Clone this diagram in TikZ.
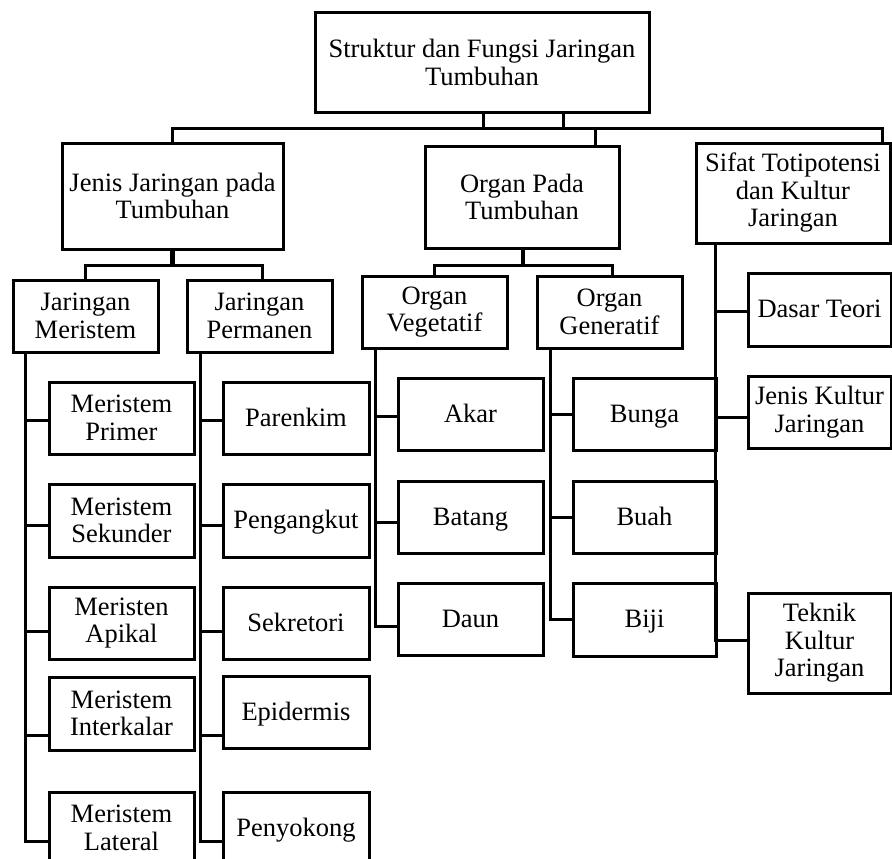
\documentclass[tikz,border=0pt]{standalone}
\usepackage{fontspec}
\setmainfont{Liberation Serif}
\begin{document}
\begin{tikzpicture}[x=1pt,y=-1pt,
  box/.style={draw,rectangle,line width=3pt,inner sep=0pt,align=center,
    font=\fontsize{26.5}{27.5}\selectfont},
  oneline/.style={box,text height=22pt,text depth=6pt},
  conn/.style={line width=3pt}]
\useasboundingbox (0,0) rectangle (892,859);
\clip (0,0) rectangle (892,859);
% level 0
\node[box,minimum width=334,minimum height=99] (root) at (482,62.5) {Struktur dan Fungsi Jaringan\\Tumbuhan};
% level 1
\node[box,minimum width=221,minimum height=106] (jenis) at (172.5,196) {Jenis Jaringan pada\\Tumbuhan};
\node[box,minimum width=194,minimum height=102] (organ) at (522,197) {Organ Pada\\Tumbuhan};
\node[box,minimum width=194,minimum height=100] (sifat) at (793,193) {Sifat Totipotensi\\dan Kultur\\Jaringan};
% level 2
\node[box,minimum width=145,minimum height=72] (jm) at (85.5,316) {Jaringan\\Meristem};
\node[box,minimum width=145,minimum height=72] (jp) at (259.5,316) {Jaringan\\Permanen};
\node[box,minimum width=145,minimum height=72] (ov) at (434.5,312) {Organ\\Vegetatif};
\node[box,minimum width=145,minimum height=72] (og) at (609.5,312) {Organ\\Generatif};
% meristem
\node[box,minimum width=145,minimum height=72] (mp) at (121.5,418) {Meristem\\Primer};
\node[box,minimum width=145,minimum height=73] (ms) at (121.5,520.5) {Meristem\\Sekunder};
\node[box,minimum width=145,minimum height=72] (ma) at (121.5,623) {Meristen\\Apikal};
\node[box,minimum width=145,minimum height=73] (mi) at (121.5,713.5) {Meristem\\Interkalar};
\node[box,minimum width=145,minimum height=72] (ml) at (121.5,828) {Meristem\\Lateral};
% permanen
\node[oneline,minimum width=146,minimum height=72] (par) at (296,418) {Parenkim};
\node[oneline,minimum width=146,minimum height=73] (peng) at (296,520.5) {Pengangkut};
\node[oneline,minimum width=146,minimum height=72] (sek) at (296,623) {Sekretori};
\node[oneline,minimum width=146,minimum height=72] (epi) at (296,712) {Epidermis};
\node[oneline,minimum width=146,minimum height=72] (peny) at (296,828) {Penyokong};
% vegetatif
\node[oneline,minimum width=145,minimum height=72] (akar) at (470.5,414) {Akar};
\node[oneline,minimum width=145,minimum height=72] (batang) at (470.5,517) {Batang};
\node[oneline,minimum width=145,minimum height=72] (daun) at (470.5,619) {Daun};
% generatif
\node[oneline,minimum width=143,minimum height=72] (bunga) at (644.5,414) {Bunga};
\node[oneline,minimum width=143,minimum height=72] (buah) at (644.5,517) {Buah};
\node[oneline,minimum width=143,minimum height=73] (biji) at (644.5,619.5) {Biji};
% sifat children
\node[oneline,minimum width=143,minimum height=73] (dasar) at (819.5,309.5) {Dasar Teori};
\node[box,minimum width=143,minimum height=72] (jk) at (819.5,412) {Jenis Kultur\\Jaringan};
\node[box,minimum width=143,minimum height=100] (tek) at (819.5,643) {Teknik\\Kultur\\Jaringan};
% root connectors
\coordinate (bus) at ([yshift=-15pt]root.south);
\draw[conn] ([xshift=1pt]root.south) -- ([xshift=1pt]bus);
\draw[conn] ([xshift=81pt]root.south) -- ([xshift=81pt]bus);
\draw[conn,line width=3.8pt] ([xshift=1pt]bus) -- ([xshift=81pt]bus);
\draw[conn] (jenis.north) |- (bus) -| ([xshift=-9pt]sifat.north east);
\draw[conn] ([xshift=73pt]organ.north) |- (bus);
% jenis children
\draw[conn,line width=4.8pt] (jenis.south) -- ([yshift=-15pt]jenis.south);
\draw[conn] (jm.north) |- ([yshift=-15pt]jenis.south) -| ([xshift=2.5pt]jp.north);
% organ children
\draw[conn,line width=4.8pt] ([xshift=1pt]organ.south) -- ([xshift=1pt,yshift=-16pt]organ.south);
\draw[conn] (ov.north) |- ([yshift=-16pt]organ.south) -| ([xshift=2.5pt]og.north);
% meristem trunk
\draw[conn] ([xshift=14pt]jm.south west) |- ([yshift=-2pt]mp.west);
\draw[conn] ([xshift=14pt]jm.south west) |- ([yshift=-4.5pt]ms.west);
\draw[conn] ([xshift=14pt]jm.south west) |- ([yshift=-8pt]ma.west);
\draw[conn] ([xshift=14pt]jm.south west) |- ([yshift=-21.5pt]mi.west);
\draw[conn] ([xshift=14pt]jm.south west) |- ([yshift=-13pt]ml.west);
% permanen trunk
\draw[conn] ([xshift=15pt]jp.south west) |- ([yshift=-2pt]par.west);
\draw[conn] ([xshift=15pt]jp.south west) |- ([yshift=-4.5pt]peng.west);
\draw[conn] ([xshift=15pt]jp.south west) |- ([yshift=-8pt]sek.west);
\draw[conn] ([xshift=15pt]jp.south west) |- ([yshift=-23pt]epi.west);
\draw[conn] ([xshift=15pt]jp.south west) |- ([yshift=-13pt]peny.west);
% vegetatif trunk
\draw[conn] ([xshift=15pt]ov.south west) |- ([yshift=-2pt]akar.west);
\draw[conn] ([xshift=15pt]ov.south west) |- ([yshift=-5pt]batang.west);
\draw[conn] ([xshift=15pt]ov.south west) |- ([yshift=-7pt]daun.west);
% generatif trunk
\draw[conn] ([xshift=15pt]og.south west) |- (bunga.west);
\draw[conn] ([xshift=15pt]og.south west) |- (buah.west);
\draw[conn] ([xshift=15pt]og.south west) |- (biji.west);
% sifat trunk
\draw[conn] ([xshift=21pt]sifat.south west) |- ([yshift=-1.5pt]dasar.west);
\draw[conn] ([xshift=21pt]sifat.south west) |- ([yshift=-5pt]jk.west);
\draw[conn] ([xshift=21pt]sifat.south west) |- ([yshift=3pt]tek.west);
\end{tikzpicture}
\end{document}
